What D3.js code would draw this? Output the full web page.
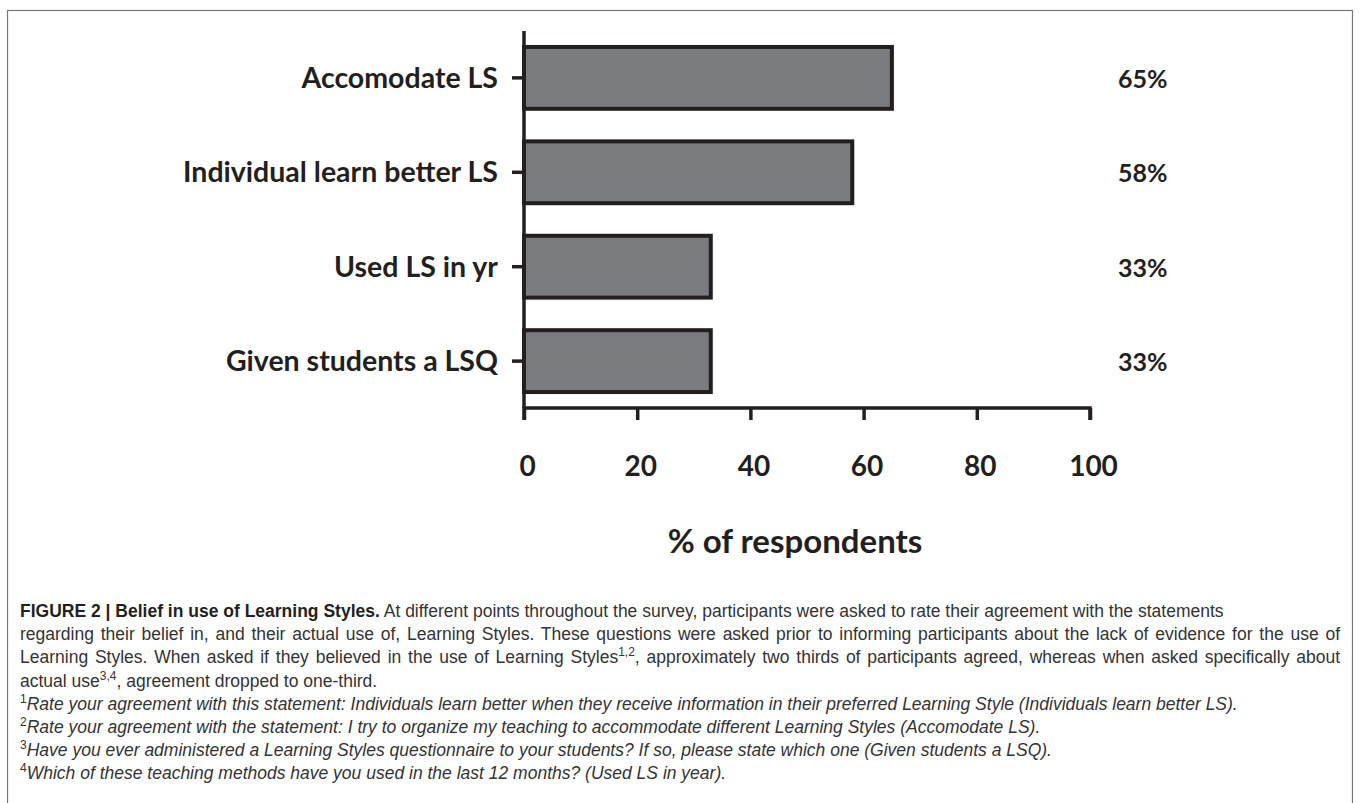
<!DOCTYPE html>
<html>
<head>
<meta charset="utf-8">
<script src="https://cdn.jsdelivr.net/npm/d3@7"></script>
<style>
  body { margin: 0; background: #fff; }
  .tick text { font-family: Lato, "Open Sans", sans-serif; font-weight: 700; fill: #231f20; }
  .tick text.cat { font-size: 28.5px; }
  .tick text.xlab { font-size: 28px; }
  .pct { font-family: Lato, "Open Sans", sans-serif; font-weight: 700; font-size: 25px; fill: #231f20; }
  .atitle { font-family: Lato, "Open Sans", sans-serif; font-weight: 700; font-size: 33px; fill: #231f20; }
  .cap { font-family: "Liberation Sans", Arial, sans-serif; font-size: 17.5px; fill: #333; }
</style>
</head>
<body>
<div id="chart"></div>
<script>
// Data
var categories = ["Accomodate LS", "Individual learn better LS", "Used LS in yr", "Given students a LSQ"];
var values = [65, 58, 33, 33];
var valueLabels = ["65%", "58%", "33%", "33%"];
var xTicks = [0, 20, 40, 60, 80, 100];

var svgWidth = 1360;
var svgHeight = 803;

var svg = d3.select("#chart")
    .append("svg")
    .attr("width", svgWidth)
    .attr("height", svgHeight);

// Outer frame
svg.append("rect")
    .attr("x", 7.5)
    .attr("y", 10.5)
    .attr("width", 1345)
    .attr("height", 800)
    .attr("fill", "none")
    .attr("stroke", "#777")
    .attr("stroke-width", 1.2);

var x0 = 524, x1 = 1090;
var xScale = d3.scaleLinear().domain([0, 100]).range([x0, x1]);
var yScale = d3.scaleBand()
    .domain(categories)
    .range([31, 408])
    .paddingInner(0.345)
    .paddingOuter(0.169);

// Bars
svg.selectAll("rect.bar")
    .data(values)
    .enter()
    .append("rect")
    .attr("class", "bar")
    .attr("x", xScale(0))
    .attr("y", (d, i) => yScale(categories[i]))
    .attr("width", d => xScale(d) - xScale(0))
    .attr("height", yScale.bandwidth())
    .attr("fill", "#7b7c7f")
    .attr("stroke", "#231f20")
    .attr("stroke-width", 4);

// Y axis
var leftAxis = d3.axisLeft(yScale).tickSize(12).tickPadding(14);
var gy = svg.append("g")
    .attr("transform", `translate(${x0}, 0)`)
    .call(leftAxis);
gy.select(".domain").attr("stroke", "#231f20").attr("stroke-width", 3.5)
    .attr("d", "M0,31V408");
gy.selectAll(".tick line").attr("stroke", "#231f20").attr("stroke-width", 3.5);
gy.selectAll(".tick text").attr("class", "cat").attr("dy", "0.35em");

// X axis
var bottomAxis = d3.axisBottom(xScale).tickValues(xTicks).tickSize(12).tickPadding(36);
var gx = svg.append("g")
    .attr("transform", "translate(0, 408)")
    .call(bottomAxis);
gx.select(".domain").attr("stroke", "#231f20").attr("stroke-width", 3.5)
    .attr("d", `M${x0},12V0H${x1}V12`);
gx.selectAll(".tick line").attr("stroke", "#231f20").attr("stroke-width", 3.5);
gx.selectAll(".tick text").attr("class", "xlab").attr("dx", "3");

// Value labels
svg.selectAll("text.pct")
    .data(valueLabels)
    .enter()
    .append("text")
    .attr("class", "pct")
    .attr("x", 1118)
    .attr("y", (d, i) => yScale(categories[i]) + yScale.bandwidth() / 2)
    .attr("dy", "0.4em")
    .text(d => d);

// Axis title
svg.append("text")
    .attr("class", "atitle")
    .attr("x", 795)
    .attr("y", 541)
    .attr("dy", "0.35em")
    .attr("text-anchor", "middle")
    .text("% of respondents");

// Caption
var capLines = [
  [{t: "FIGURE 2 | Belief in use of Learning Styles.", b: 1}, {t: " At different points throughout the survey, participants were asked to rate their agreement with the statements"}],
  [{t: "regarding their belief in, and their actual use of, Learning Styles. These questions were asked prior to informing participants about the lack of evidence for the use of"}],
  [{t: "Learning Styles. When asked if they believed in the use of Learning Styles"}, {t: "1,2", s: 1}, {t: ", approximately two thirds of participants agreed, whereas when asked specifically about"}],
  [{t: "actual use"}, {t: "3,4", s: 1}, {t: ", agreement dropped to one-third."}],
  [{t: "1", s: 1}, {t: "Rate your agreement with this statement: Individuals learn better when they receive information in their preferred Learning Style (Individuals learn better LS).", i: 1}],
  [{t: "2", s: 1}, {t: "Rate your agreement with the statement: I try to organize my teaching to accommodate different Learning Styles (Accomodate LS).", i: 1}],
  [{t: "3", s: 1}, {t: "Have you ever administered a Learning Styles questionnaire to your students? If so, please state which one (Given students a LSQ).", i: 1}],
  [{t: "4", s: 1}, {t: "Which of these teaching methods have you used in the last 12 months? (Used LS in year).", i: 1}]
];
var justify = [false, true, true, false, false, false, false, false];
var rightEdge = 1340;

capLines.forEach(function(line, li) {
  var t = svg.append("text")
      .attr("class", "cap")
      .attr("x", 20)
      .attr("y", 617 + li * 23.2);
  line.forEach(function(p, pi) {
    var ts = t.append("tspan").text(p.t);
    if (p.b) ts.attr("font-weight", "bold").attr("fill", "#231f20");
    if (p.i) ts.attr("font-style", "italic");
    if (p.s) ts.attr("font-size", "12px").attr("dy", "-7");
    else if (pi > 0 && line[pi - 1].s) ts.attr("dy", "7");
  });
  if (justify[li]) {
    var natural = t.node().getComputedTextLength();
    var spaces = line.map(p => p.t).join("").split(" ").length - 1;
    t.attr("word-spacing", (rightEdge - 20 - natural) / spaces);
  }
});
</script>
</body>
</html>
